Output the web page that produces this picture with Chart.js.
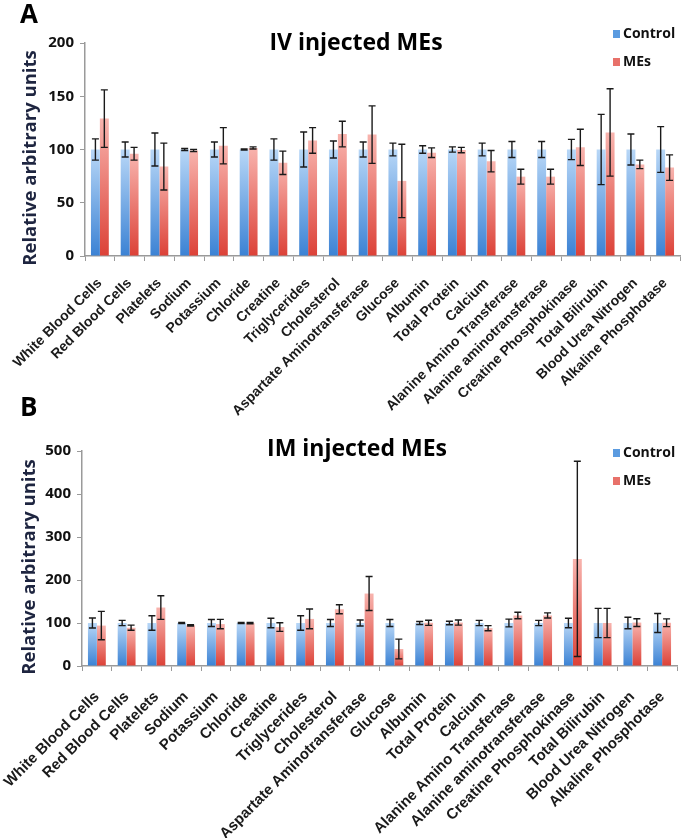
<!DOCTYPE html>
<html>
<head>
<meta charset="utf-8">
<script src="https://cdn.jsdelivr.net/npm/chart.js@4"></script>
<style>
  body { margin: 0; background: #fff; }
  #wrap { position: relative; width: 685px; height: 838px; }
  #boxA { position: absolute; left: 0; top: 0; width: 685px; height: 430px; }
  #boxB { position: absolute; left: 0; top: 388px; width: 685px; height: 450px; }
</style>
</head>
<body>
<div id="wrap">
  <div id="boxA"><canvas id="ivChart" width="685" height="430"></canvas></div>
  <div id="boxB"><canvas id="imChart" width="685" height="450"></canvas></div>
</div>
<script>
const categories = [
  "White Blood Cells", "Red Blood Cells", "Platelets", "Sodium", "Potassium",
  "Chloride", "Creatine", "Triglycerides", "Cholesterol", "Aspartate Aminotransferase",
  "Glucose", "Albumin", "Total Protein", "Calcium", "Alanine Amino Transferase",
  "Alanine aminotransferase", "Creatine Phosphokinase", "Total Bilirubin",
  "Blood Urea Nitrogen", "Alkaline Phosphotase"
];

// IV injected
const ivControl = [100, 100, 100, 100, 100, 100, 100, 100, 100, 100, 100, 100, 100, 100, 100, 100, 100, 100, 100, 100];
const ivControlErr = [10, 7, 15.5, 1, 7, 0.5, 10, 16.5, 8, 7, 6, 3.5, 2.5, 6, 7.5, 7.5, 9.5, 33, 14.5, 21.5];
const ivMEs = [129, 96, 84, 99, 103.5, 101.5, 87.5, 108.5, 114.5, 114, 70.5, 97, 99.5, 89, 74.5, 74.5, 102, 116, 86, 83];
const ivMEsErr = [27, 6, 22, 1, 17, 1, 11, 12, 12, 27, 34.5, 4.5, 2.5, 10, 7, 7, 17, 41, 4, 12];

// IM injected
const imControl = [100, 100, 100, 100, 100, 100, 100, 100, 100, 100, 100, 100, 100, 100, 100, 100, 100, 100, 100, 100];
const imControlErr = [11.5, 6, 17, 1, 8, 1, 11, 17, 8, 7, 8, 3.5, 4, 6, 9, 6, 11, 34, 13.5, 22];
const imMEs = [94, 89, 136, 94.5, 97.5, 99.5, 90.5, 109.5, 132, 168.5, 39.5, 100.5, 101, 88, 117.5, 117.5, 249, 100, 101, 100.5];
const imMEsErr = [33, 6, 27.5, 1.5, 11, 1.5, 10, 23, 10.5, 39.5, 23, 6, 6, 6, 7.5, 6, 227, 34, 9, 9];

const ivTicks = [0, 50, 100, 150, 200];
const imTicks = [0, 100, 200, 300, 400, 500];

const BLUE = ["#3b82d4", "#b8d7f7"];
const RED = ["#dc4137", "#f8b4ae"];

// vertical gradient per bar: dark at the base, light at the top
function barGradient(pair) {
  return (ctx) => {
    const chart = ctx.chart;
    const y = chart.scales.y;
    if (!chart.chartArea || !y || ctx.parsed == null) return pair[0];
    const base = y.getPixelForValue(0);
    const top = y.getPixelForValue(ctx.parsed.y);
    if (!isFinite(top) || top === base) return pair[0];
    const g = chart.ctx.createLinearGradient(0, base, 0, top);
    g.addColorStop(0, pair[0]);
    g.addColorStop(1, pair[1]);
    return g;
  };
}

const errorBars = {
  id: "errorBars",
  afterDatasetsDraw(chart) {
    const ctx = chart.ctx;
    const y = chart.scales.y;
    ctx.save();
    ctx.strokeStyle = "#1a1a1a";
    ctx.lineWidth = 1.4;
    chart.data.datasets.forEach((ds, i) => {
      const meta = chart.getDatasetMeta(i);
      meta.data.forEach((bar, j) => {
        const v = ds.data[j], e = ds.errors[j];
        const y1 = y.getPixelForValue(v + e);
        const y2 = y.getPixelForValue(v - e);
        const x = bar.x, c = 3.5;
        ctx.beginPath();
        ctx.moveTo(x, y1); ctx.lineTo(x, y2);
        ctx.moveTo(x - c, y1); ctx.lineTo(x + c, y1);
        ctx.moveTo(x - c, y2); ctx.lineTo(x + c, y2);
        ctx.stroke();
      });
    });
    ctx.restore();
  }
};

// panel letter, titles and the small legend inside the plot
const decor = {
  id: "decor",
  afterDraw(chart, args, opts) {
    const ctx = chart.ctx;
    ctx.save();
    ctx.fillStyle = "#000";
    ctx.textBaseline = "middle";
    ctx.font = "bold 26px 'Open Sans', sans-serif";
    ctx.textAlign = "left";
    ctx.fillText(opts.letter, opts.letterX, opts.letterY);
    ctx.font = "bold 23px 'Open Sans', sans-serif";
    ctx.textAlign = "center";
    ctx.fillText(opts.title, opts.titleX, opts.titleY);

    // y axis title
    ctx.save();
    ctx.translate(opts.yTitleX, opts.yTitleY);
    ctx.rotate(-Math.PI / 2);
    ctx.fillStyle = "#1e2540";
    ctx.font = "bold 18.5px 'Open Sans', sans-serif";
    ctx.fillText(opts.yTitle, 0, 0);
    ctx.restore();

    ctx.font = "bold 14px 'Open Sans', sans-serif";
    ctx.textAlign = "left";
    chart.data.datasets.forEach((ds, i) => {
      const ly = opts.legendY + i * 28;
      ctx.fillStyle = ds.legendColor;
      ctx.fillRect(opts.legendX, ly - 4, 7, 8);
      ctx.fillStyle = "#111";
      ctx.fillText(ds.label, opts.legendX + 10, ly);
    });
    ctx.restore();
  }
};

function makeChart(id, control, controlErr, mes, mesErr, ticks, cfg) {
  return new Chart(document.getElementById(id), {
    type: "bar",
    data: {
      labels: categories,
      datasets: [
        { label: "Control", data: control, errors: controlErr, backgroundColor: barGradient(BLUE), legendColor: "#5b9be0" },
        { label: "MEs", data: mes, errors: mesErr, backgroundColor: barGradient(RED), legendColor: "#e8716a" }
      ]
    },
    options: {
      responsive: false,
      animation: false,
      categoryPercentage: 0.6,
      barPercentage: 1.0,
      layout: { padding: { top: cfg.top, right: cfg.right, left: 0, bottom: 0 } },
      plugins: {
        legend: { display: false },
        tooltip: { enabled: false },
        decor: cfg.decor
      },
      scales: {
        x: {
          grid: { display: true, drawOnChartArea: false, drawTicks: true, tickLength: 5, color: "#9a9a9a", offset: true },
          border: { color: "#9a9a9a", width: 1.5 },
          ticks: {
            autoSkip: false, minRotation: 45, maxRotation: 45, padding: cfg.labelPad, color: "#1a1a1a",
            font: { family: "'Liberation Sans', Arial, sans-serif", size: cfg.labelSize, weight: "bold" }
          },
          // fixed axis height, and no extra side padding for the rotated labels
          afterFit: (s) => { s.height = cfg.xHeight; s.paddingLeft = 0; s.paddingRight = 0; }
        },
        y: {
          min: ticks[0],
          max: ticks[ticks.length - 1],
          afterBuildTicks: (s) => { s.ticks = ticks.map((v) => ({ value: v })); },
          grid: { display: true, drawOnChartArea: false, drawTicks: true, tickLength: 5, color: "#9a9a9a" },
          border: { color: "#9a9a9a", width: 1.5 },
          ticks: { color: "#111", padding: 6, font: { family: "'Open Sans', sans-serif", size: 15, weight: "bold" } },
          afterFit: (s) => { s.width = cfg.yWidth; s.paddingTop = 0; s.paddingBottom = 0; }
        }
      }
    },
    plugins: [errorBars, decor]
  });
}

makeChart("ivChart", ivControl, ivControlErr, ivMEs, ivMEsErr, ivTicks, {
  top: 43, right: 5, xHeight: 174, yWidth: 85, labelPad: 14, labelSize: 14,
  decor: {
    letter: "A", letterX: 20, letterY: 16, title: "IV injected MEs", titleX: 356, titleY: 43,
    legendX: 613, legendY: 34, yTitle: "Relative arbitrary units", yTitleX: 31, yTitleY: 158
  }
});

makeChart("imChart", imControl, imControlErr, imMEs, imMEsErr, imTicks, {
  top: 63, right: 8, xHeight: 172, yWidth: 82, labelPad: 17, labelSize: 15,
  decor: {
    letter: "B", letterX: 20, letterY: 21, title: "IM injected MEs", titleX: 357, titleY: 61,
    legendX: 613, legendY: 65, yTitle: "Relative arbitrary units", yTitleX: 30, yTitleY: 179
  }
});
</script>
</body>
</html>
